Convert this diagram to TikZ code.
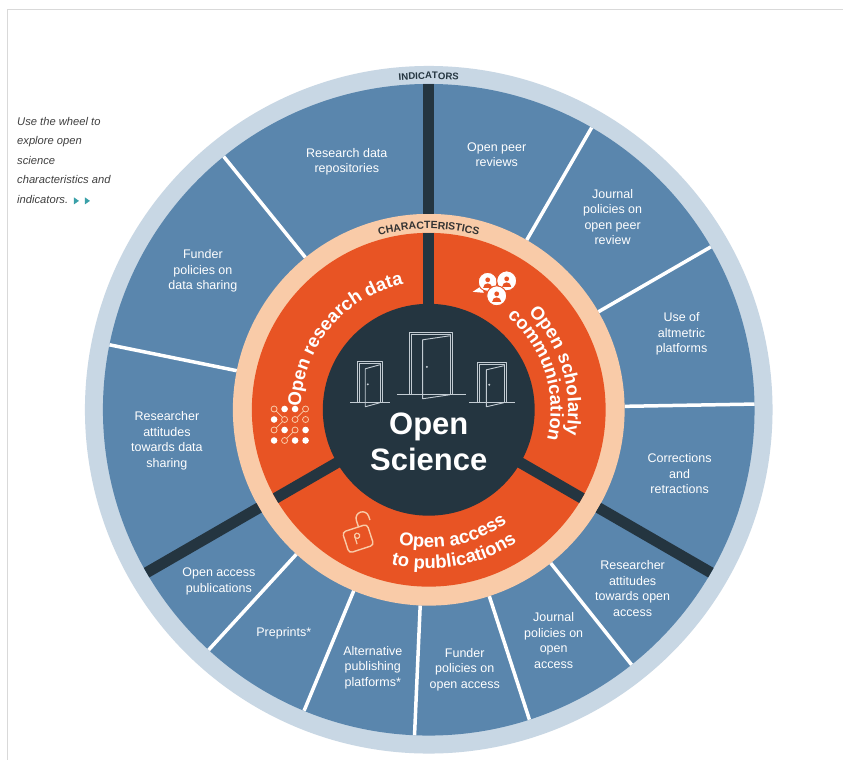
\documentclass[tikz,border=0pt]{standalone}
\usepackage{fontspec}
\setmainfont{Liberation Sans}
\usepackage{xcolor}
\usetikzlibrary{decorations.text}

\definecolor{ringlight}{HTML}{C8D7E4}
\definecolor{wheelblue}{HTML}{5A86AD}
\definecolor{navy}{HTML}{243540}
\definecolor{osorange}{HTML}{E85424}
\definecolor{peach}{HTML}{F9CBA8}
\definecolor{doorgray}{HTML}{C3CCD3}
\definecolor{arrowteal}{HTML}{3AA0A8}

\newcommand\sectorfont{\fontsize{18.5}{20}\selectfont\bfseries}
% door outline: #1,#2 lower left corner, #3 width, #4 height
\newcommand\door[4]{%
  \draw[doorline] (#1,#2) -- (#1,#2+#4) -- (#1+#3,#2+#4) -- (#1+#3,#2);
  \draw[doorline] (#1+2,#2) -- (#1+2,#2+#4-2) -- (#1+#3-2,#2+#4-2) -- (#1+#3-2,#2);
  \draw[doorline] (#1+#3-3,#2+#4-3) -- (#1+0.3*#3,#2+#4-7) -- (#1+0.3*#3,#2-4) -- (#1+#3-3,#2);
  \fill[doorgray] (#1+0.4*#3,#2+0.45*#4) circle (1.1);
  \draw[doorline] (#1-0.3*#3,#2) -- (#1+1.3*#3,#2);
}

\begin{document}
\begin{tikzpicture}[x=1pt, y=1pt,
    indicator/.style={text=white, align=center, inner sep=0pt,
      font=\fontsize{12.5}{15.5}\selectfont},
    divider/.style={draw=navy, line width=11pt},
    splitline/.style={draw=white, line width=3.5pt},
    doorline/.style={draw=doorgray, line width=0.9pt, line join=round},
    title/.style={text=white, anchor=base, inner sep=0pt,
      font=\fontsize{31}{36}\selectfont\bfseries}]

  % Background and page frame
  \fill[white] (-429,-350) rectangle (414,410);
  \draw[black!15, line width=1pt] (-421,-350) -- (-421,400) -- (414,400);

  % Hint text on the left
  \node[anchor=north west, align=left, inner sep=0pt, text=black!75,
    font=\fontsize{11.2}{19.5}\selectfont\itshape] (hint) at (-412,293)
    {Use the wheel to\\explore open\\science\\characteristics and\\indicators.};
  \fill[arrowteal] (-355,205.5) -- (-350,209) -- (-355,212.5) -- cycle;
  \fill[arrowteal] (-344,205.5) -- (-339,209) -- (-344,212.5) -- cycle;

  % Outer ring and indicator segments
  \fill[ringlight] (0,0) circle (344);
  \fill[wheelblue] (0,0) circle (326);
  \foreach \a in {60,30,1,-51.5,-72,-92.5,-112.5,-132.5,129,168.5}
    \draw[splitline] (\a:196) -- (\a:326);

  % Characteristics ring, sectors and dividers
  \fill[peach] (0,0) circle (196);
  \fill[osorange] (0,0) circle (177);
  \foreach \a in {90,210,330} {
    \draw[divider] (\a:100) -- (\a:177);
    \draw[divider] (\a:196) -- (\a:326);
  }
  \fill[navy] (0,0) circle (106);

  % Ring titles
  \path[decorate, decoration={text along path, text align=center, text color=navy,
      text={|\fontsize{9.6}{11}\selectfont\bfseries|INDICATORS}}]
    (105:331) arc[start angle=105, end angle=75, radius=331];
  \path[decorate, decoration={text along path, text align=center, text color=black!80,
      text={|\fontsize{10.5}{12}\selectfont\bfseries|CHARACTERISTICS}}]
    (130:181) arc[start angle=130, end angle=50, radius=181];

  % Sector labels
  \path[decorate, decoration={text along path, text align=center, text color=white,
      text={|\sectorfont|Open research data}}]
    (190:128) arc[start angle=190, end angle=90, radius=128];
  \path[decorate, decoration={text along path, text align=center, text color=white,
      text={|\sectorfont|Open scholarly}}]
    (72:139.5) arc[start angle=72, end angle=-38, radius=139.5];
  \path[decorate, decoration={text along path, text align=center, text color=white,
      text={|\sectorfont|communication}}]
    (73:122) arc[start angle=73, end angle=-37, radius=122];
  \path[decorate, decoration={text along path, text align=center, text color=white,
      text={|\sectorfont|Open access}}]
    (-129:138) arc[start angle=-129, end angle=-29, radius=138];
  \path[decorate, decoration={text along path, text align=center, text color=white,
      text={|\sectorfont|to publications}}]
    (-130:159) arc[start angle=-130, end angle=-30, radius=159];

  % Data icon
  \begin{scope}[shift={(-139,-15)}]
    \draw[peach, line width=0.8pt] (-15.75,15.75) -- (-5.25,5.25) -- (-15.75,-5.25);
    \draw[peach, line width=0.8pt] (5.25,5.25) -- (15.75,15.75);
    \draw[peach, line width=0.8pt] (-5.25,-15.75) -- (5.25,-5.25);
    \foreach \c/\r/\f in {1/1/0,2/1/1,3/1/1,4/1/0, 1/2/1,2/2/0,3/2/0,4/2/0,
                          1/3/0,2/3/1,3/3/0,4/3/1, 1/4/1,2/4/0,3/4/1,4/4/1} {
      \ifnum\f=1
        \fill[white] ({-26.25+\c*10.5},{26.25-\r*10.5}) circle (3.3);
      \else
        \filldraw[fill=osorange, draw=peach, line width=0.8pt]
          ({-26.25+\c*10.5},{26.25-\r*10.5}) circle (3);
      \fi
    }
  \end{scope}

  % Chat icon
  \begin{scope}[shift={(68,121)}]
    \fill[white] (-24,-3) -- (-15,3) -- (-13,-4) -- cycle;
    \filldraw[fill=white, draw=osorange, line width=1pt] (-9,7) circle (9.5);
    \filldraw[fill=white, draw=osorange, line width=1pt] (10,8) circle (10);
    \filldraw[fill=white, draw=osorange, line width=1pt] (0,-7) circle (10);
    \foreach \u/\v in {-9/7, 10/8, 0/-7} {
      \fill[osorange] (\u,\v+2) circle (2.4);
      \fill[osorange] (\u-4.5,\v-6) arc[start angle=180, end angle=0, radius=4.5] -- cycle;
    }
  \end{scope}

  % Lock icon
  \begin{scope}[shift={(-71,-128)}, rotate=18]
    \draw[peach, line width=1.4pt, rounded corners=3.5pt] (-13,-12) rectangle (13,10);
    \draw[peach, line width=1.4pt] (4,10) -- (4,17) arc[start angle=180, end angle=0, radius=6.5] -- (17,13);
    \draw[peach, line width=1.2pt] (0,2) circle (2.6);
    \draw[peach, line width=1.2pt] (-2.6,2) -- (-2.6,-6);
  \end{scope}

  % Doors in the centre
  \door{-71}{7}{25}{41}
  \door{-19}{15}{43}{62}
  \door{49}{7}{29}{40}

  % Centre title
  \node[title] (open) at (0,-25) {Open};
  \node[title] (science) at (0,-61) {Science};

  % Indicator labels
  \node[indicator] (repos) at (-82,248) {Research data\\repositories};
  \node[indicator] (peerrev) at (68,255) {Open peer\\reviews};
  \node[indicator] (journalpeer) at (184,193) {Journal\\policies on\\open peer\\review};
  \node[indicator] (altmetric) at (253,76) {Use of\\altmetric\\platforms};
  \node[indicator] (corrections) at (251,-64) {Corrections\\and\\retractions};
  \node[indicator] (attoa) at (204,-179) {Researcher\\attitudes\\towards open\\access};
  \node[indicator] (journaloa) at (125,-231) {Journal\\policies on\\open\\access};
  \node[indicator] (funderoa) at (36,-260) {Funder\\policies on\\open access};
  \node[indicator] (altpub) at (-56,-258) {Alternative\\publishing\\platforms*};
  \node[indicator] (preprints) at (-145,-224) {Preprints*};
  \node[indicator] (oapubs) at (-210,-172) {Open access\\publications};
  \node[indicator] (attdata) at (-262,-31) {Researcher\\attitudes\\towards data\\sharing};
  \node[indicator] (funderdata) at (-226,139) {Funder\\policies on\\data sharing};
\end{tikzpicture}
\end{document}
